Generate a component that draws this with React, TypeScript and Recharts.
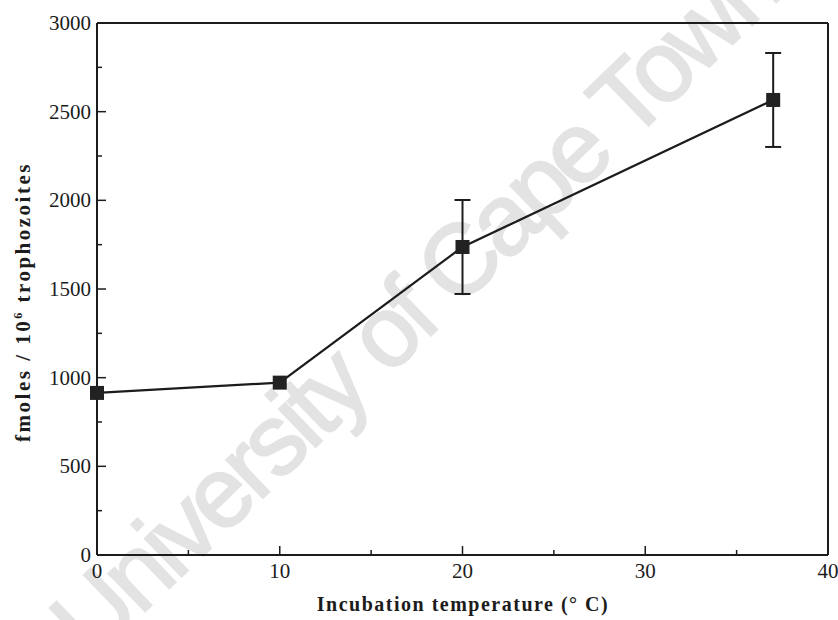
import { ComposedChart, Line, Scatter, ErrorBar, XAxis, YAxis } from 'recharts'

// Incubation temperature (°C) and uptake (fmoles / 10^6 trophozoites)
const temps = [0, 10, 20, 37]
const fmoles = [914, 972, 1737, 2566]
const errs = [0, 0, 265, 265]

const xTicks = [0, 5, 10, 15, 20, 25, 30, 35, 40]
const yTicks = [0, 250, 500, 750, 1000, 1250, 1500, 1750, 2000, 2250, 2500, 2750, 3000]

const data = temps.map((t, i) => ({ t, v: fmoles[i], e: errs[i] }))
const errData = data.filter((d) => d.e > 0)

const INK = '#1c1c1c'
const SERIF = '"Liberation Serif", "Times New Roman", serif'

function BottomTick({ x, y, payload }: any) {
  const major = payload.value % 10 === 0
  return (
    <g>
      <line x1={x} x2={x} y1={y} y2={y - (major ? 9 : 5)} stroke={INK} strokeWidth={1.5} />
      {major && (
        <text x={x} y={y + 23} textAnchor="middle" fontSize={21} fontFamily={SERIF} fill={INK}>
          {payload.value}
        </text>
      )}
    </g>
  )
}

function TopTick({ x, y, payload }: any) {
  const major = payload.value % 10 === 0
  return <line x1={x} x2={x} y1={y} y2={y + (major ? 9 : 5)} stroke={INK} strokeWidth={1.5} />
}

function LeftTick({ x, y, payload }: any) {
  const major = payload.value % 500 === 0
  return (
    <g>
      <line x1={x} x2={x + (major ? 9 : 5)} y1={y} y2={y} stroke={INK} strokeWidth={1.5} />
      {major && (
        <text x={x - 6} y={y + 7} textAnchor="end" fontSize={21} fontFamily={SERIF} fill={INK}>
          {payload.value}
        </text>
      )}
    </g>
  )
}

function RightTick({ x, y, payload }: any) {
  const major = payload.value % 500 === 0
  return <line x1={x} x2={x - (major ? 9 : 5)} y1={y} y2={y} stroke={INK} strokeWidth={1.5} />
}

function SquareDot({ cx, cy }: any) {
  if (cx == null || cy == null) return null
  return <rect x={cx - 7} y={cy - 7} width={14} height={14} fill="#222" />
}

export default function App() {
  return (
    <div style={{ position: 'absolute', left: 0, top: 0, width: 838, height: 620, background: '#fff', overflow: 'hidden' }}>
      <svg width={838} height={620} style={{ position: 'absolute', left: 0, top: 0, zIndex: 0 }}>
        <text
          x={92}
          y={663}
          transform="rotate(-44 92 663)"
          fontFamily='"Liberation Sans", Arial, sans-serif'
          fontSize={100}
          letterSpacing={-5}
          fill="#e3e3e3"
          stroke="#e3e3e3"
          strokeWidth={2}
        >
          University of Cape Town
        </text>
      </svg>
      <div style={{ position: 'relative', zIndex: 1 }}>
        <ComposedChart width={838} height={620} data={data} margin={{ top: 13, right: 0, bottom: 25, left: 37 }}>
          <XAxis
            dataKey="t"
            type="number"
            domain={[0, 40]}
            ticks={xTicks}
            interval={0}
            tickSize={0}
            tickMargin={0}
            height={40}
            tick={<BottomTick />}
            axisLine={{ stroke: INK, strokeWidth: 2 }}
          />
          <XAxis
            xAxisId="top"
            orientation="top"
            type="number"
            domain={[0, 40]}
            ticks={xTicks}
            interval={0}
            tickSize={0}
            tickMargin={0}
            height={10}
            tick={<TopTick />}
            axisLine={{ stroke: INK, strokeWidth: 2 }}
          />
          <YAxis
            type="number"
            domain={[0, 3000]}
            ticks={yTicks}
            interval={0}
            tickSize={0}
            tickMargin={0}
            width={60}
            tick={<LeftTick />}
            axisLine={{ stroke: INK, strokeWidth: 2 }}
          />
          <YAxis
            yAxisId="right"
            orientation="right"
            type="number"
            domain={[0, 3000]}
            ticks={yTicks}
            interval={0}
            tickSize={0}
            tickMargin={0}
            width={10}
            tick={<RightTick />}
            axisLine={{ stroke: INK, strokeWidth: 2 }}
          />
          <Line
            dataKey="v"
            type="linear"
            stroke={INK}
            strokeWidth={2.2}
            dot={<SquareDot />}
            activeDot={false}
            isAnimationActive={false}
          />
          <Scatter data={errData} dataKey="v" shape={() => null} isAnimationActive={false}>
            <ErrorBar dataKey="e" direction="y" width={8} stroke={INK} strokeWidth={2} isAnimationActive={false} />
          </Scatter>
        </ComposedChart>
      </div>
      <div
        style={{
          position: 'absolute',
          left: 23,
          top: 302,
          transform: 'translate(-50%, -50%) rotate(-90deg)',
          fontFamily: SERIF,
          fontWeight: 'bold',
          fontSize: 21,
          letterSpacing: 2.5,
          color: INK,
          whiteSpace: 'nowrap',
          zIndex: 2,
        }}
      >
        fmoles / 10<sup style={{ fontSize: 12 }}>6</sup> trophozoites
      </div>
      <div
        style={{
          position: 'absolute',
          left: 463,
          top: 604,
          transform: 'translate(-50%, -50%)',
          fontFamily: SERIF,
          fontWeight: 'bold',
          fontSize: 20,
          letterSpacing: 1.5,
          color: INK,
          whiteSpace: 'nowrap',
          zIndex: 2,
        }}
      >
        Incubation temperature (° C)
      </div>
    </div>
  )
}
